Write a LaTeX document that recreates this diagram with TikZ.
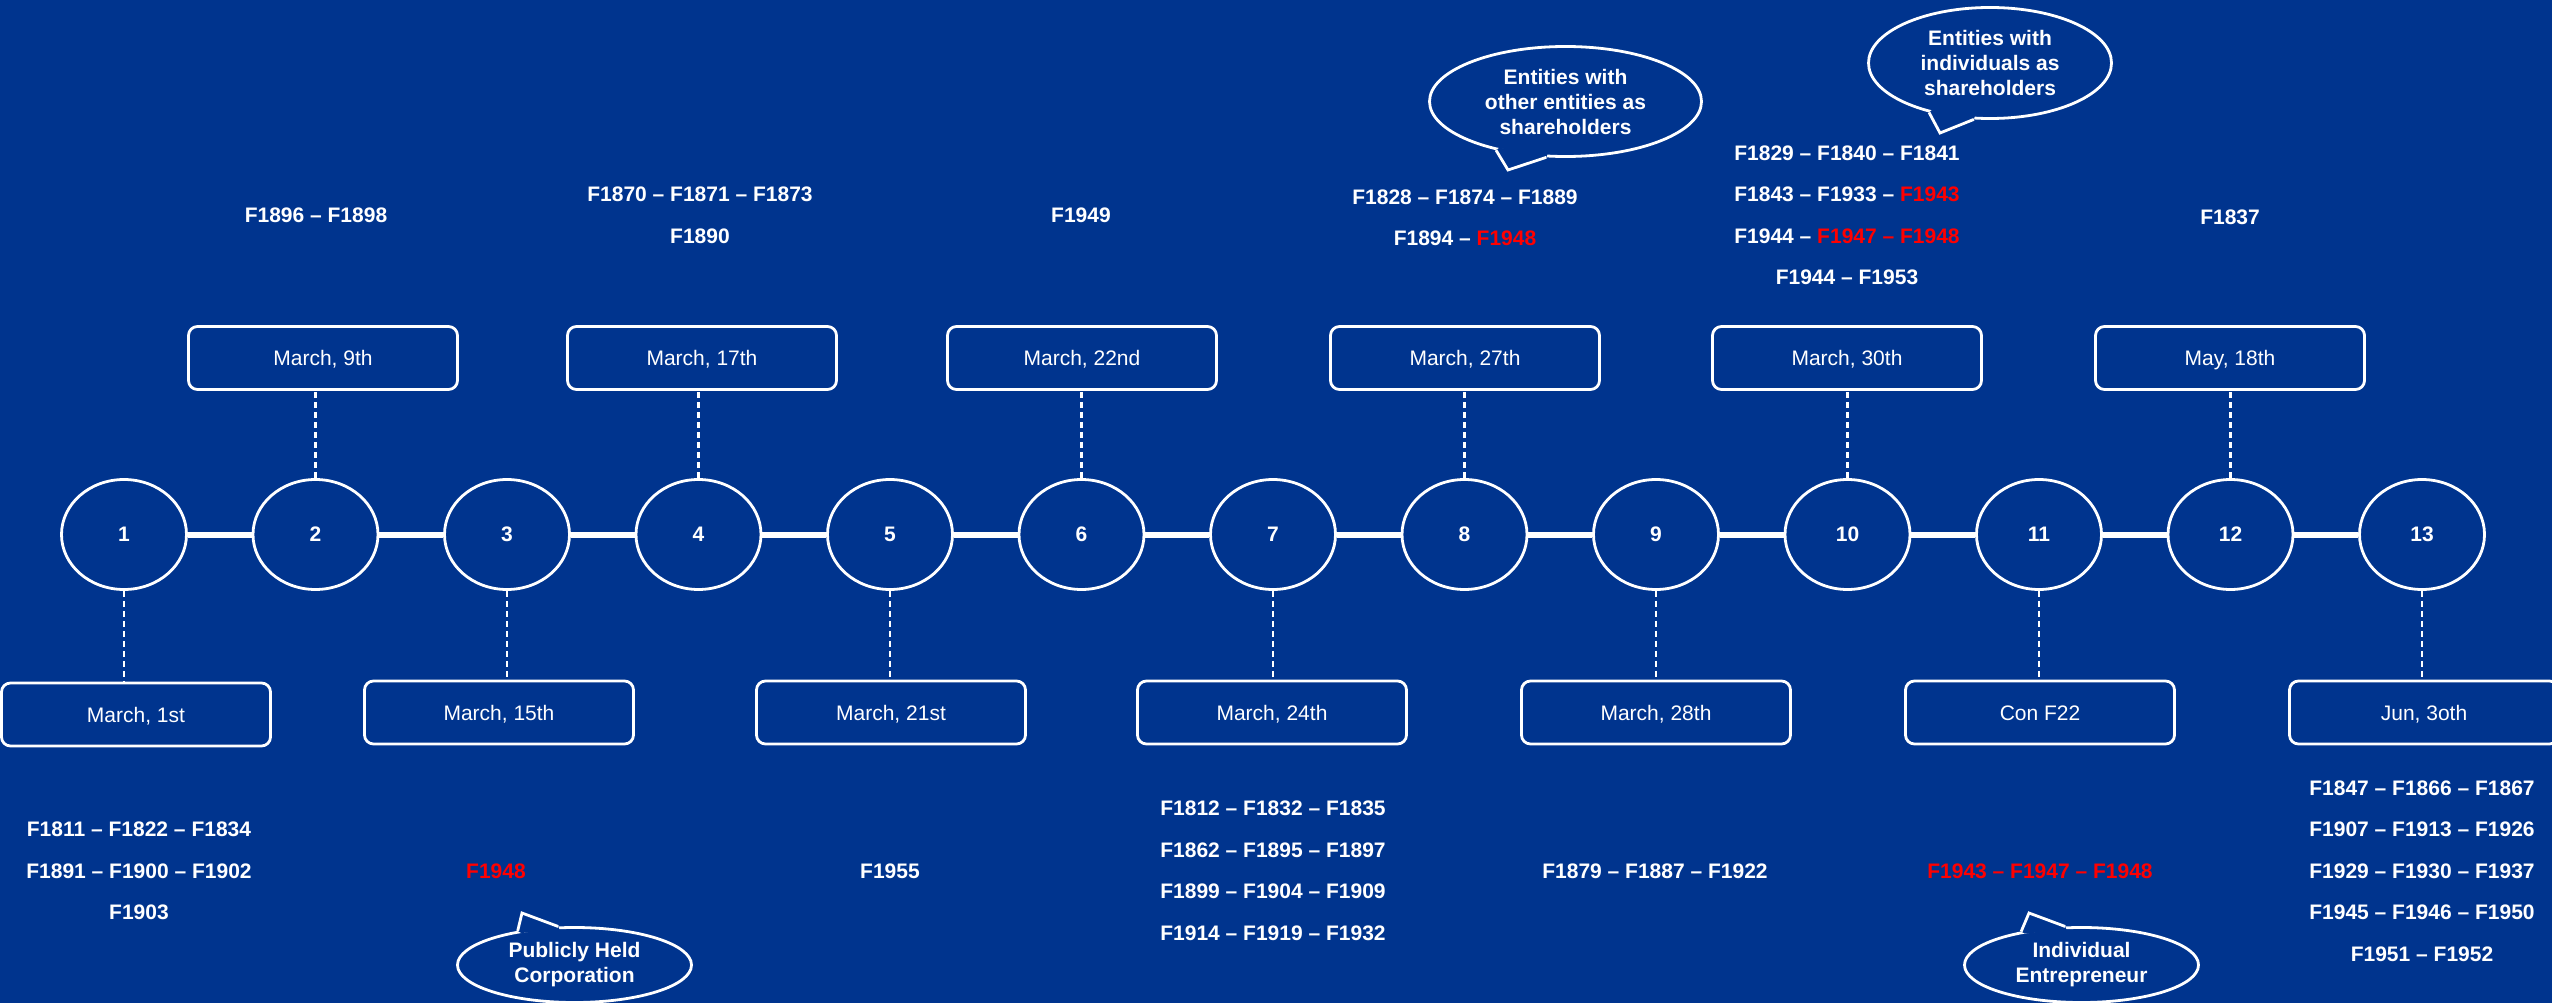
\documentclass[tikz,border=0pt]{standalone}
\usepackage{fontspec}
\setmainfont{Liberation Sans}
\usepackage{tikz}
\usetikzlibrary{shapes.geometric,calc}
\definecolor{bgBlue}{RGB}{0,52,142}
\definecolor{codeRed}{RGB}{255,0,0}

\begin{document}
\begin{tikzpicture}[x=1pt, y=-1pt,
  ring/.style={ellipse, draw=white, line width=2.8pt, minimum width=125pt, minimum height=110pt, inner sep=0pt, text=white, font=\fontsize{21}{25}\selectfont\bfseries},
  datebox/.style={draw=white, line width=2.8pt, rounded corners=9pt, minimum width=269pt, minimum height=63pt, inner sep=0pt, text=white, font=\fontsize{21}{25}\selectfont, text height=15pt, text depth=0pt},
  spine/.style={white, line width=6pt},
  leader/.style={white, line width=2.4pt, dash pattern=on 6pt off 4pt},
  codes/.style={align=center, text=white, inner sep=0pt, font=\fontsize{21}{41.5}\selectfont\bfseries},
  bubble/.style={ellipse, draw=white, line width=2.8pt, fill=bgBlue, align=center, inner sep=0pt, text=white, font=\fontsize{21}{25}\selectfont\bfseries},
  pointer/.style={white, line width=2.8pt, line join=miter}]
\fill[bgBlue] (0,0) rectangle (2552,1003);
\useasboundingbox (0,0) rectangle (2552,1003);

\foreach \i in {1,...,13} \node[ring] (c\i) at ({124+191.5*(\i-1)},534.5) {\i};
\foreach \i [count=\j from 2] in {1,...,12} \draw[spine] (c\i) -- (c\j);

\foreach \i/\x/\y/\t in {1/136/714.5/{March, 1st}, 2/323/358/{March, 9th}, 3/499/712.5/{March, 15th}, 4/702/358/{March, 17th}, 5/891/712.5/{March, 21st}, 6/1082/358/{March, 22nd}, 7/1272/712.5/{March, 24th}, 8/1465/358/{March, 27th}, 9/1656/712.5/{March, 28th}, 10/1847/358/{March, 30th}, 11/2040/712.5/{Con F22}, 12/2230/358/{May, 18th}, 13/2424/712.5/{Jun, 3oth}}
  \node[datebox] (d\i) at (\x,\y) {\t};
\foreach \i in {2,4,...,12} \draw[leader] (c\i.north) -- (c\i.north |- d\i.south);
\foreach \i in {1,3,...,13} \draw[leader] (c\i.south) -- (c\i.south |- d\i.north);

\node[codes] (f2) at (316,215) {F1896 – F1898};
\node[codes] (f4) at (700,215.5) {F1870 – F1871 – F1873\\F1890};
\node[codes] (f6) at (1081,215) {F1949};
\node[codes] (f8) at (1465,218) {F1828 – F1874 – F1889\\F1894 – \textcolor{codeRed}{F1948}};
\node[codes] (f10) at (1847,215.5) {F1829 – F1840 – F1841\\F1843 – F1933 – \textcolor{codeRed}{F1943}\\F1944 – \textcolor{codeRed}{F1947 – F1948}\\F1944 – F1953};
\node[codes] (f12) at (2230,217) {F1837};
\node[codes] (f1) at (139,871) {F1811 – F1822 – F1834\\F1891 – F1900 – F1902\\F1903};
\node[codes, text=codeRed] (f3) at (496,871.5) {F1948};
\node[codes] (f5) at (890,871) {F1955};
\node[codes] (f7) at (1273,871) {F1812 – F1832 – F1835\\F1862 – F1895 – F1897\\F1899 – F1904 – F1909\\F1914 – F1919 – F1932};
\node[codes] (f9) at (1655,871.5) {F1879 – F1887 – F1922};
\node[codes, text=codeRed] (f11) at (2040,871) {F1943 – F1947 – F1948};
\node[codes] (f13) at (2422,871) {F1847 – F1866 – F1867\\F1907 – F1913 – F1926\\F1929 – F1930 – F1937\\F1945 – F1946 – F1950\\F1951 – F1952};

\node[bubble, minimum width=272pt, minimum height=110pt] (b1) at (1565.5,101.5) {Entities with\\other entities as\\shareholders};
\node[bubble, minimum width=243pt, minimum height=111pt] (b2) at (1990,63) {Entities with\\individuals as\\shareholders};
\node[bubble, minimum width=234pt, minimum height=75pt] (b3) at (574.5,965) {Publicly Held\\Corporation};
\node[bubble, minimum width=234pt, minimum height=75pt] (b4) at (2081.5,965) {Individual\\Entrepreneur};
\coordinate (p1) at (1508,170);
\coordinate (p2) at (1940,133);
\coordinate (p3) at (522,913);
\coordinate (p4) at (2029,913);
\foreach \k/\s/\e in {1/215/251, 2/219/254, 3/149/113, 4/151/113}
  { \fill[bgBlue] ($(b\k.\s)!4pt!(b\k.center)$) -- (b\k.\s) -- (p\k) -- (b\k.\e) -- ($(b\k.\e)!4pt!(b\k.center)$) -- cycle;
    \draw[pointer] (b\k.\s) -- (p\k) -- (b\k.\e); }
\end{tikzpicture}
\end{document}
